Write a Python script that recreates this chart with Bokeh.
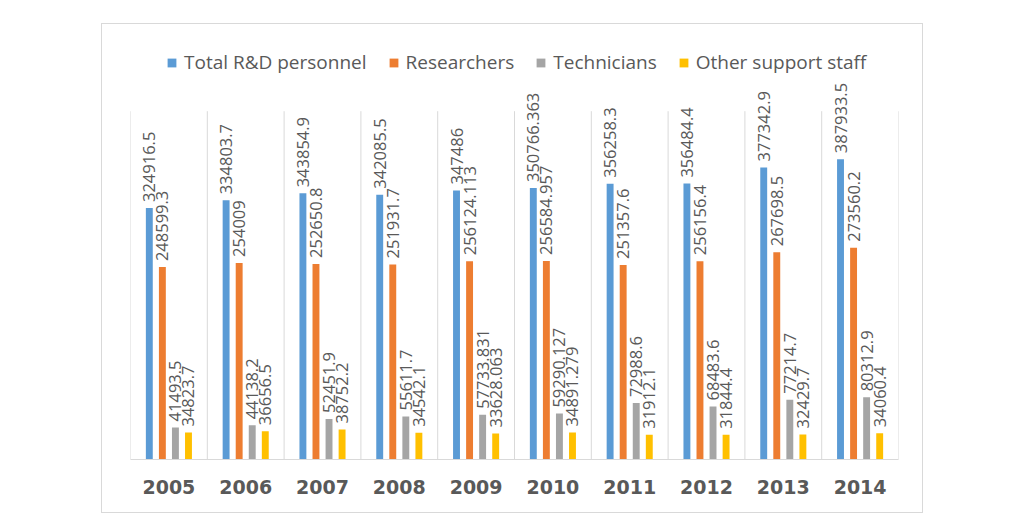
import math
from bokeh.plotting import figure
from bokeh.models import ColumnDataSource, FactorRange, Range1d, Legend, LegendItem
from bokeh.transform import dodge
from bokeh.embed import file_html
from bokeh.resources import INLINE
from bokeh.core.properties import value

years = ["2005", "2006", "2007", "2008", "2009", "2010", "2011", "2012", "2013", "2014"]
series_names = ["Total R&D personnel", "Researchers", "Technicians", "Other support staff"]
total = [324916.5, 334803.7, 343854.9, 342085.5, 347486, 350766.363, 356258.3, 356484.4, 377342.9, 387933.5]
researchers = [248599.3, 254009, 252650.8, 251931.7, 256124.113, 256584.957, 251357.6, 256156.4, 267698.5, 273560.2]
technicians = [41493.5, 44138.2, 52451.9, 55611.7, 57733.831, 59290.127, 72988.6, 68483.6, 77214.7, 80312.9]
other = [34823.7, 36656.5, 38752.2, 34542.1, 33628.063, 34891.279, 31912.1, 31844.4, 32429.7, 34060.4]

colors = ["#5B9BD5", "#ED7D31", "#A5A5A5", "#FFC000"]
keys = ["total", "researchers", "technicians", "other"]
series = [total, researchers, technicians, other]
offsets = [-0.255, -0.085, 0.085, 0.255]
BAR_W = 0.09
Y_TOP = 450000
TXT = "#595959"
GRID = "#D9D9D9"

data = dict(years=years)
for k, s in zip(keys, series):
    data[k] = s
    data[k + "_label"] = [str(v) for v in s]
src = ColumnDataSource(data)

p = figure(x_range=FactorRange(*years), y_range=Range1d(0, 562000),
           width=822, height=490, output_backend="svg", toolbar_location=None,
           y_axis_location=None,
           min_border_left=28, min_border_right=26, min_border_top=0, min_border_bottom=55,
           margin=(23, 0, 0, 101), styles={"border": "1px solid #D9D9D9"})
p.outline_line_color = None
p.xgrid.grid_line_color = None
p.ygrid.grid_line_color = None

# category separators
p.segment(x0=dodge("years", -0.5, range=p.x_range), y0=0,
          x1=dodge("years", -0.5, range=p.x_range), y1=Y_TOP,
          source=src, line_color=GRID, line_width=1)
last = ColumnDataSource(dict(years=[years[-1]]))
p.segment(x0=dodge("years", 0.5, range=p.x_range), y0=0,
          x1=dodge("years", 0.5, range=p.x_range), y1=Y_TOP,
          source=last, line_color=GRID, line_width=1)

items = []
for k, name, c, off in zip(keys, series_names, colors, offsets):
    r = p.vbar(x=dodge("years", off, range=p.x_range), top=k, width=BAR_W,
               source=src, fill_color=c, line_color=None)
    items.append(LegendItem(label=name, renderers=[r]))
    p.text(x=dodge("years", off, range=p.x_range), y=k, text=k + "_label", source=src,
           angle=math.pi / 2, text_align="left", text_baseline="middle", y_offset=-6,
           text_font=value("Open Sans"), text_font_size="16.5px", text_color=TXT)

legend = Legend(items=items, orientation="horizontal", location=(36, 384),
                glyph_width=11, glyph_height=11, label_standoff=7, spacing=21,
                padding=0, margin=0, border_line_color=None, background_fill_alpha=0,
                label_text_font="Open Sans", label_text_font_size="19px",
                label_text_color=TXT)
p.add_layout(legend)

ax = p.xaxis[0]
ax.axis_line_color = GRID
ax.major_tick_line_color = None
ax.minor_tick_line_color = None
ax.major_label_text_font = "DejaVu Sans"
ax.major_label_text_font_style = "bold"
ax.major_label_text_font_size = "19px"
ax.major_label_text_color = TXT
ax.major_label_standoff = 14

open("out.html", "w").write(file_html(p, INLINE))
